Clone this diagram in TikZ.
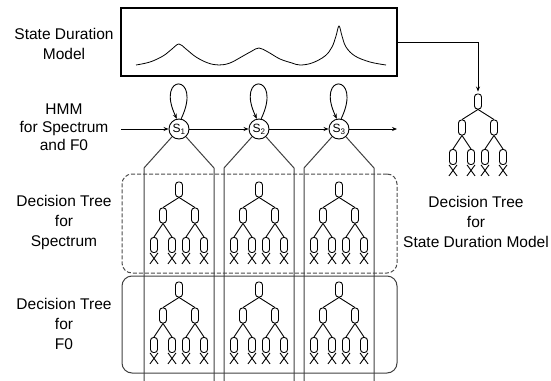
\documentclass[tikz,border=0pt]{standalone}
\usepackage{fontspec}
\setmainfont{Liberation Sans}
\usetikzlibrary{arrows.meta, positioning}

\begin{document}
\begin{tikzpicture}[x=1pt, y=-1pt, line width=0.9pt, >={Stealth[length=5pt,width=4pt]}]
\tikzstyle{sidetext} = [align=center, font=\fontsize{15.5}{20}\selectfont]
\tikzstyle{hmmstate} = [circle, draw, minimum size=20pt, inner sep=0pt, fill=white, font=\fontsize{12}{12}\selectfont]
\tikzstyle{leaf} = [rectangle, rounded corners=3pt, draw, minimum width=7pt, minimum height=15pt, inner sep=0pt]
\tikzstyle{panel} = [rectangle, draw, rounded corners=10pt, minimum width=275pt, line width=1pt]
\tikzstyle{column} = [draw=black!75, line width=1pt]
\tikzstyle{arrow} = [->]

\useasboundingbox (0,0) rectangle (551,380);

% side labels
\node (sdmtext) [sidetext] at (64,44) {State Duration\\Model};
\node (hmmtext) [sidetext, font=\fontsize{15.5}{18}\selectfont] at (64,127) {HMM\\for Spectrum\\and F0};
\node (spectext) [sidetext] at (64,222) {Decision Tree\\for\\Spectrum};
\node (f0text) [sidetext] at (64,324) {Decision Tree\\for\\F0};
\node (durtext) [sidetext] at (476,222) {Decision Tree\\for\\State Duration Model};

% state duration model
\node (sdm) [draw, line width=1.1pt, minimum width=276pt, minimum height=68pt] at (259,42) {};
\draw[line width=0.8pt] plot[smooth, tension=0.6] coordinates {(136,65) (150,62) (163,56) (172,49) (179,44) (186,49) (196,57) (208,63) (219,65) (230,63) (243,56) (252,51) (259,48) (268,52) (280,59) (292,63) (300,65) (312,63) (325,56) (332,47) (336,36) (339,26) (342,36) (346,47) (355,56) (370,62) (386,65)};

% decision tree panels
\node (specpanel) [panel, dashed, dash pattern=on 4pt off 2pt, draw=black!70, minimum height=99pt] at (259.5,223.5) {};
\node (f0panel) [panel, draw=black!75, minimum height=97pt] at (259.5,324.5) {};

% HMM
\node (s1) [hmmstate] at (179,129) {S\textsubscript{1}};
\node (s2) [hmmstate] at (259,129) {S\textsubscript{2}};
\node (s3) [hmmstate] at (339,129) {S\textsubscript{3}};
\coordinate (hin) at (121,129);
\coordinate (hout) at (397,129);

\draw [arrow] (hin) -- (s1);
\draw [arrow] (s1) -- (s2);
\draw [arrow] (s2) -- (s3);
\draw [arrow] (s3) -- (hout);
\foreach \s in {s1,s2,s3}
  \draw [arrow] (\s.78) .. controls +(22,-46) and +(-22,-46) .. (\s.102);

% state columns
\foreach \s/\x in {s1/179, s2/259, s3/339} {
  \coordinate (\s-l) at (\x-35,168);
  \coordinate (\s-r) at (\x+35,168);
  \coordinate (\s-lb) at (\x-35,381);
  \coordinate (\s-rb) at (\x+35,381);
  \draw [column] (\s) -- (\s-l) -- (\s-lb);
  \draw [column] (\s) -- (\s-r) -- (\s-rb);
}

% decision trees
\foreach \n/\tx/\ty in {sa/179/182, sb/259/182, sc/339/182, fa/179/282, fb/259/282, fc/339/282, dur/478/94} {
  \node (\n-r) [leaf] at (\tx,\ty+7.5) {};
  \node (\n-a) [leaf] at (\tx-16,\ty+33.5) {};
  \node (\n-b) [leaf] at (\tx+16,\ty+33.5) {};
  \node (\n-aa) [leaf] at (\tx-25,\ty+63) {};
  \node (\n-ab) [leaf] at (\tx-7,\ty+63) {};
  \node (\n-ba) [leaf] at (\tx+7,\ty+63) {};
  \node (\n-bb) [leaf] at (\tx+25,\ty+63) {};
  \draw (\n-r.south) -- (\n-a.north);
  \draw (\n-r.south) -- (\n-b.north);
  \draw (\n-a.south) -- (\n-aa.north);
  \draw (\n-a.south) -- (\n-ab.north);
  \draw (\n-b.south) -- (\n-ba.north);
  \draw (\n-b.south) -- (\n-bb.north);
  \foreach \g in {aa,ab,ba,bb}
    \draw (\n-\g.south west) -- ++(8,11) (\n-\g.south east) -- ++(-8,11);
}

\draw [arrow, shorten >=2pt] (sdm.east) -| (dur-r.north);
\end{tikzpicture}
\end{document}
